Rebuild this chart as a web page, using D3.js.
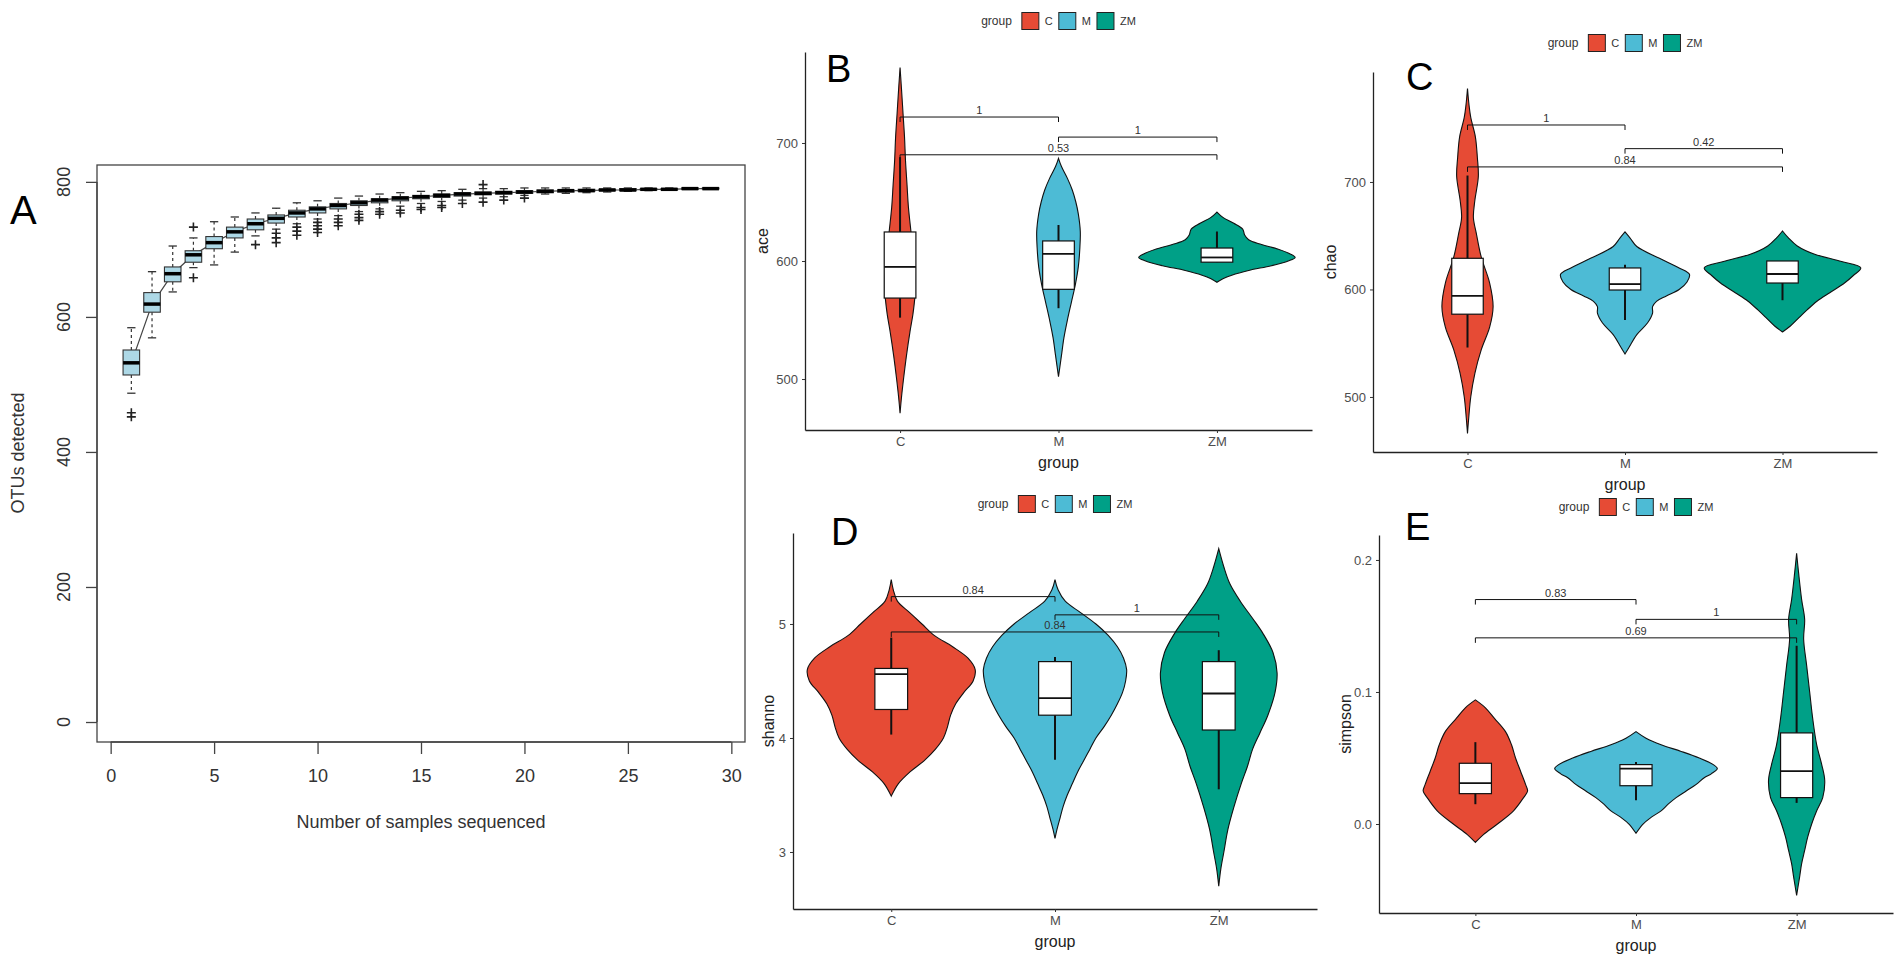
<!DOCTYPE html>
<html>
<head>
<meta charset="utf-8">
<script src="https://cdn.jsdelivr.net/npm/d3@7"></script>
<style>
    body { margin: 0; background: #fff; }
    text { font-family: "Liberation Sans", Arial, sans-serif; }
</style>
</head>
<body>
<div id="wrapper"></div>
<script>
// ---------- panel A: rarefaction boxplots ----------
const rareSamples = d3.range(1, 30)
const rareMedian = [532, 619, 664, 692, 710, 726, 738, 746, 754, 760, 765, 769, 773, 776, 778, 780, 782, 783, 784, 785, 786, 787, 787, 788, 788, 789, 789, 790, 790]
const rareQ1 = [514, 607, 652, 681, 701, 717, 729, 739, 748, 754, 760, 765, 769, 772, 775, 777, 779, 781, 782, 783, 784, 785, 786, 787, 787, 788, 788, 789, 790]
const rareQ3 = [551, 636, 674, 698, 719, 733, 745, 751, 758, 763, 768, 772, 775, 778, 780, 782, 784, 785, 786, 787, 788, 788, 789, 789, 790, 790, 790, 791, 791]
const rareHigh = [584, 667, 705, 717, 741, 748, 754, 761, 769, 772, 776, 779, 782, 784, 786, 787, 789, 790, 790, 791, 791, 791, 791, 791, 791, 791, 791, 791, 791]
const rareLow = [487, 569, 637, 673, 677, 696, 720, 730, 738, 745, 750, 756, 760, 764, 768, 771, 773, 776, 778, 780, 782, 783, 784, 785, 786, 787, 788, 789, 790]
const rareOutliers = [[458, 452], [], [], [733, 658], [], [], [707], [724, 717, 710], [733, 727, 721], [740, 735, 730, 725], [745, 740, 735], [752, 747, 743], [756, 752], [758, 754], [762, 759], [765, 762], [768], [796, 770], [773], [776], [], [], [], [], [], [], [], [], []]
const rareXTicks = [0, 5, 10, 15, 20, 25, 30]
const rareYTicks = [0, 200, 400, 600, 800]

// ---------- violin panels ----------
const groups = ['C', 'M', 'ZM']
const groupColors = ['#E64B35', '#4DBBD5', '#00A087']

// violin outlines: [value, density]
const aceC = [[764, 0], [745, 1.5], [725, 3], [705, 4.5], [685, 5.5], [665, 7], [645, 8.5], [625, 11], [605, 13.5], [585, 15.5], [570, 15], [555, 13], [540, 10], [520, 6.5], [500, 3.5], [485, 1.5], [471, 0]]
const aceM = [[687, 0], [680, 3], [670, 9], [660, 14], [650, 17.5], [640, 20], [625, 22], [610, 21.5], [595, 20], [580, 17], [565, 13], [550, 9], [535, 5.5], [520, 3], [502, 0]]
const aceZM = [[641.5, 0], [637, 6], [632, 17], [627, 26], [622, 28], [618, 32], [614, 45], [610, 62], [606, 74], [603, 79], [600, 72], [596, 55], [592, 32], [588, 15], [585, 6], [582, 0]]
const aceBox = [[552, 568.6, 595, 624.6, 688], [560, 576, 606, 617, 630.5], [599, 599, 603, 611, 625]]
const aceBrackets = [['C', 'M', 722, '1'], ['M', 'ZM', 705, '1'], ['C', 'ZM', 690, '0.53']]

const chaoC = [[787, 0], [772, 1.5], [760, 3.3], [742, 8], [723, 10], [705, 11], [683, 7.5], [667, 6], [652, 9], [630, 14], [606, 22.5], [584, 26], [565, 22.5], [544, 14], [522, 7.5], [500, 3.3], [480, 1.2], [466, 0]]
const chaoM = [[653.5, 0], [648, 5], [640, 12], [629, 35], [620, 55], [614, 65.5], [607, 63], [600, 55], [594, 42], [589, 32], [584, 28], [578, 28], [569, 23], [558, 12], [546, 4], [540, 0]]
const chaoZM = [[654.4, 0], [648, 6], [640.5, 15], [633, 32], [626, 60], [620, 79.5], [613, 72], [606, 63], [597, 48], [589, 35], [581, 25], [574, 17], [566, 8], [560.5, 0]]
const chaoBox = [[546, 577, 594, 629, 706], [571.6, 599.5, 605, 620, 623], [590, 606, 614.4, 626.5, 626.5]]
const chaoBrackets = [['C', 'M', 753, '1'], ['M', 'ZM', 731, '0.42'], ['C', 'ZM', 714, '0.84']]

const shannoC = [[5.39, 0], [5.3, 2], [5.2, 6], [5.1, 18], [5.0, 30], [4.9, 42], [4.8, 60], [4.7, 75], [4.6, 82], [4.5, 80], [4.4, 71], [4.3, 63], [4.2, 58], [4.1, 55], [4.0, 51], [3.9, 43], [3.8, 32], [3.7, 18], [3.6, 7], [3.49, 0]]
const shannoM = [[5.39, 0], [5.3, 3], [5.2, 10], [5.1, 25], [5.0, 40], [4.9, 52], [4.8, 61], [4.7, 67], [4.6, 70], [4.5, 69], [4.4, 66], [4.3, 61], [4.2, 55], [4.1, 48], [4.0, 40], [3.9, 34], [3.8, 28], [3.7, 22], [3.6, 17], [3.5, 12], [3.4, 8], [3.3, 5], [3.2, 2], [3.12, 0]]
const shannoZM = [[5.66, 0], [5.5, 5], [5.35, 11], [5.2, 21], [5.05, 33], [4.92, 43], [4.75, 53], [4.57, 57], [4.4, 55], [4.2, 48], [4.04, 40], [3.9, 33], [3.75, 28], [3.6, 22], [3.4, 15], [3.2, 9], [3.0, 5], [2.85, 2], [2.7, 0]]
const shannoBox = [[4.03, 4.25, 4.56, 4.61, 4.88], [3.81, 4.2, 4.35, 4.67, 4.71], [3.55, 4.07, 4.39, 4.67, 4.77]]
const shannoBrackets = [['C', 'M', 5.24, '0.84'], ['M', 'ZM', 5.08, '1'], ['C', 'ZM', 4.93, '0.84']]

const simpsonC = [[0.094, 0], [0.088, 10], [0.08, 19], [0.07, 30], [0.06, 36], [0.05, 40], [0.04, 45], [0.03, 50], [0.025, 52], [0.02, 48], [0.01, 38], [0.0, 22], [-0.008, 8], [-0.014, 0]]
const simpsonM = [[0.070, 0], [0.065, 10], [0.06, 25], [0.055, 45], [0.05, 63], [0.045, 77], [0.042, 81], [0.038, 75], [0.035, 68], [0.03, 60], [0.025, 50], [0.02, 40], [0.015, 32], [0.01, 25], [0.005, 15], [0.0, 7], [-0.007, 0]]
const simpsonZM = [[0.205, 0], [0.19, 2], [0.17, 5], [0.155, 8], [0.14, 7], [0.12, 10], [0.10, 13], [0.08, 16], [0.06, 20], [0.045, 25], [0.033, 28], [0.02, 26], [0.01, 20], [0.0, 15], [-0.01, 11], [-0.02, 8], [-0.03, 5], [-0.04, 3], [-0.054, 0]]
const simpsonBox = [[0.015, 0.023, 0.031, 0.046, 0.062], [0.018, 0.029, 0.042, 0.045, 0.047], [0.016, 0.020, 0.040, 0.069, 0.135]]
const simpsonBrackets = [['C', 'M', 0.170, '0.83'], ['M', 'ZM', 0.155, '1'], ['C', 'ZM', 0.141, '0.69']]

const wrapper = d3.select('#wrapper')
    .append('svg')
    .attr('width', 1902)
    .attr('height', 962)

// ---------- panel A ----------
function drawRarefaction() {
    const bounds = wrapper.append('g')
    const xScale = d3.scaleLinear().domain([-0.66, 30.66]).range([97, 745])
    const yScale = d3.scaleLinear().domain([-29.6, 825]).range([742, 165])
    const boxW = xScale(0.4) - xScale(0)

    bounds.append('rect')
        .attr('x', 97).attr('y', 165)
        .attr('width', 648).attr('height', 577)
        .attr('fill', 'none').attr('stroke', '#444').attr('stroke-width', 1.3)

    const xAxis = d3.axisBottom(xScale).tickValues(rareXTicks).tickSize(12).tickPadding(15).tickSizeOuter(0)
    const xg = bounds.append('g').attr('transform', 'translate(0,742)').call(xAxis)
    xg.select('.domain').attr('d', `M${xScale(0)},0H${xScale(30)}`).attr('stroke', '#444').attr('stroke-width', 1.3)
    xg.selectAll('.tick line').attr('stroke', '#444').attr('stroke-width', 1.3)
    xg.selectAll('.tick text').attr('font-size', 18).attr('fill', '#333')
        .attr('font-family', '"Liberation Sans", Arial, sans-serif')

    const yAxis = d3.axisLeft(yScale).tickValues(rareYTicks).tickSize(11).tickFormat('').tickSizeOuter(0)
    const yg = bounds.append('g').attr('transform', 'translate(97,0)').call(yAxis)
    yg.select('.domain').attr('d', `M0,${yScale(0)}V${yScale(800)}`).attr('stroke', '#444').attr('stroke-width', 1.3)
    yg.selectAll('.tick line').attr('stroke', '#444').attr('stroke-width', 1.3)
    bounds.selectAll('.ytick-label')
        .data(rareYTicks)
        .join('text')
        .attr('class', 'ytick-label')
        .attr('transform', d => `translate(70,${yScale(d)}) rotate(-90)`)
        .attr('text-anchor', 'middle')
        .attr('font-size', 18)
        .attr('fill', '#333')
        .text(d => d)

    bounds.append('text')
        .attr('x', 421).attr('y', 828)
        .attr('text-anchor', 'middle').attr('font-size', 18).attr('fill', '#333')
        .text('Number of samples sequenced')
    bounds.append('text')
        .attr('transform', 'translate(24,453) rotate(-90)')
        .attr('text-anchor', 'middle').attr('font-size', 18).attr('fill', '#333')
        .text('OTUs detected')
    bounds.append('text')
        .attr('x', 10).attr('y', 224)
        .attr('font-size', 40).attr('fill', '#000')
        .text('A')

    // line through medians
    const medianLine = d3.line()
        .x((d, i) => xScale(rareSamples[i]))
        .y(d => yScale(d))
    bounds.append('path')
        .attr('d', medianLine(rareMedian))
        .attr('fill', 'none').attr('stroke', '#444').attr('stroke-width', 1.2)

    const boxes = bounds.selectAll('.rare-box')
        .data(rareSamples)
        .join('g')
        .attr('class', 'rare-box')

    boxes.append('line')
        .attr('x1', d => xScale(d)).attr('x2', d => xScale(d))
        .attr('y1', (d, i) => yScale(rareQ3[i])).attr('y2', (d, i) => yScale(rareHigh[i]))
        .attr('stroke', '#333').attr('stroke-dasharray', '3,3').attr('stroke-width', 1.2)
    boxes.append('line')
        .attr('x1', d => xScale(d)).attr('x2', d => xScale(d))
        .attr('y1', (d, i) => yScale(rareQ1[i])).attr('y2', (d, i) => yScale(rareLow[i]))
        .attr('stroke', '#333').attr('stroke-dasharray', '3,3').attr('stroke-width', 1.2)
    boxes.append('line')
        .attr('x1', d => xScale(d) - boxW / 2).attr('x2', d => xScale(d) + boxW / 2)
        .attr('y1', (d, i) => yScale(rareHigh[i])).attr('y2', (d, i) => yScale(rareHigh[i]))
        .attr('stroke', '#333').attr('stroke-width', 1.3)
    boxes.append('line')
        .attr('x1', d => xScale(d) - boxW / 2).attr('x2', d => xScale(d) + boxW / 2)
        .attr('y1', (d, i) => yScale(rareLow[i])).attr('y2', (d, i) => yScale(rareLow[i]))
        .attr('stroke', '#333').attr('stroke-width', 1.3)
    boxes.append('rect')
        .attr('x', d => xScale(d) - boxW)
        .attr('y', (d, i) => yScale(rareQ3[i]))
        .attr('width', boxW * 2)
        .attr('height', (d, i) => Math.max(1, yScale(rareQ1[i]) - yScale(rareQ3[i])))
        .attr('fill', '#ADD8E6').attr('stroke', '#333').attr('stroke-width', 1.1)
    boxes.append('line')
        .attr('x1', d => xScale(d) - boxW).attr('x2', d => xScale(d) + boxW)
        .attr('y1', (d, i) => yScale(rareMedian[i])).attr('y2', (d, i) => yScale(rareMedian[i]))
        .attr('stroke', '#000').attr('stroke-width', 3.5)

    // outliers as "+"
    rareSamples.forEach((s, i) => {
        rareOutliers[i].forEach(v => {
            const cx = xScale(s), cy = yScale(v)
            bounds.append('path')
                .attr('d', `M${cx - 4.5},${cy}H${cx + 4.5}M${cx},${cy - 4.5}V${cy + 4.5}`)
                .attr('stroke', '#222').attr('stroke-width', 1.6)
        })
    })
}

// ---------- legend ----------
function drawLegend(cx, cy) {
    const legend = wrapper.append('g')
    const title = legend.append('text')
        .attr('x', 0).attr('y', cy).attr('dy', '0.35em')
        .attr('font-size', 12).attr('fill', '#333')
        .text('group')
    let pos = title.node().getComputedTextLength() + 10
    groups.forEach((grp, i) => {
        legend.append('rect')
            .attr('x', pos).attr('y', cy - 8.5)
            .attr('width', 17).attr('height', 17)
            .attr('fill', groupColors[i]).attr('stroke', '#222').attr('stroke-width', 1)
        pos += 23
        const label = legend.append('text')
            .attr('x', pos).attr('y', cy).attr('dy', '0.35em')
            .attr('font-size', 11).attr('fill', '#333')
            .text(grp)
        pos += label.node().getComputedTextLength() + 6
    })
    legend.attr('transform', `translate(${cx - (pos - 6) / 2},0)`)
}

// ---------- violin panel ----------
function drawViolinPanel(p) {
    const xScale = d3.scalePoint().domain(groups).range([p.left, p.right]).padding(0.6)
    const yScale = d3.scaleLinear().domain(p.yDomain).range([p.bottom, p.top])
    const colorScale = d3.scaleOrdinal().domain(groups).range(groupColors)
    const widthScale = d3.scaleLinear().domain([0, 160]).range([0, xScale.step()])
    const boxHalf = xScale.step() * 0.1
    const bounds = wrapper.append('g')

    groups.forEach((grp, i) => {
        const violinArea = d3.area()
            .y(d => yScale(d[0]))
            .x0(d => xScale(grp) - widthScale(d[1]))
            .x1(d => xScale(grp) + widthScale(d[1]))
            .curve(d3.curveCatmullRom)
        bounds.append('path')
            .attr('d', violinArea(p.violins[i]))
            .attr('fill', colorScale(grp))
            .attr('stroke', '#111').attr('stroke-width', 1.1)
    })

    p.box.forEach(([lo, q1, med, q3, hi], i) => {
        const cx = xScale(groups[i])
        bounds.append('line')
            .attr('x1', cx).attr('x2', cx)
            .attr('y1', yScale(lo)).attr('y2', yScale(hi))
            .attr('stroke', '#111').attr('stroke-width', 2)
        bounds.append('rect')
            .attr('x', cx - boxHalf).attr('y', yScale(q3))
            .attr('width', boxHalf * 2).attr('height', yScale(q1) - yScale(q3))
            .attr('fill', '#fff').attr('stroke', '#111').attr('stroke-width', 1.2)
        bounds.append('line')
            .attr('x1', cx - boxHalf).attr('x2', cx + boxHalf)
            .attr('y1', yScale(med)).attr('y2', yScale(med))
            .attr('stroke', '#111').attr('stroke-width', 1.8)
    })

    p.brackets.forEach(([a, b, v, label]) => {
        const yy = yScale(v)
        bounds.append('path')
            .attr('d', `M${xScale(a)},${yy + 5}V${yy}H${xScale(b)}V${yy + 5}`)
            .attr('fill', 'none').attr('stroke', '#111').attr('stroke-width', 1)
        bounds.append('text')
            .attr('x', (xScale(a) + xScale(b)) / 2).attr('y', yy - 3)
            .attr('text-anchor', 'middle').attr('font-size', 11).attr('fill', '#333')
            .text(label)
    })

    const xAxis = d3.axisBottom(xScale).tickSize(3).tickPadding(4).tickSizeOuter(0)
    const xg = bounds.append('g').attr('transform', `translate(0,${p.bottom})`).call(xAxis)
    const yAxis = d3.axisLeft(yScale).tickValues(p.ticks).tickFormat(p.format).tickSize(3).tickPadding(4).tickSizeOuter(0)
    const yg = bounds.append('g').attr('transform', `translate(${p.left},0)`).call(yAxis)
    ;[xg, yg].forEach(ag => {
        ag.select('.domain').attr('stroke', '#222').attr('stroke-width', 1.3)
        ag.selectAll('.tick line').attr('stroke', '#333')
        ag.selectAll('.tick text').attr('font-size', 13).attr('fill', '#4D4D4D')
            .attr('font-family', '"Liberation Sans", Arial, sans-serif')
    })

    bounds.append('text')
        .attr('x', xScale('M')).attr('y', p.bottom + 38)
        .attr('text-anchor', 'middle').attr('font-size', 16).attr('fill', '#222')
        .text('group')
    bounds.append('text')
        .attr('transform', `translate(${p.yTitleX},${(p.top + p.bottom) / 2}) rotate(-90)`)
        .attr('text-anchor', 'middle').attr('dy', '0.35em').attr('font-size', 16).attr('fill', '#222')
        .text(p.yTitle)
    bounds.append('text')
        .attr('x', p.letterX).attr('y', p.letterY)
        .attr('font-size', 38).attr('fill', '#000')
        .text(p.letter)

    drawLegend(xScale('M'), p.legendY)
}

drawRarefaction()

drawViolinPanel({
    left: 805, right: 1312, top: 52, bottom: 430,
    yDomain: [456.8, 777.1], ticks: [500, 600, 700], format: d3.format('d'),
    violins: [aceC, aceM, aceZM], box: aceBox, brackets: aceBrackets,
    yTitle: 'ace', yTitleX: 762, letter: 'B', letterX: 826, letterY: 82, legendY: 21
})
drawViolinPanel({
    left: 1373, right: 1877, top: 72, bottom: 452,
    yDomain: [448.8, 802.3], ticks: [500, 600, 700], format: d3.format('d'),
    violins: [chaoC, chaoM, chaoZM], box: chaoBox, brackets: chaoBrackets,
    yTitle: 'chao', yTitleX: 1330, letter: 'C', letterX: 1406, letterY: 90, legendY: 43
})
drawViolinPanel({
    left: 793, right: 1317, top: 533, bottom: 909,
    yDomain: [2.5, 5.798], ticks: [3, 4, 5], format: d3.format('d'),
    violins: [shannoC, shannoM, shannoZM], box: shannoBox, brackets: shannoBrackets,
    yTitle: 'shanno', yTitleX: 768, letter: 'D', letterX: 831, letterY: 545, legendY: 504
})
drawViolinPanel({
    left: 1379, right: 1893, top: 535, bottom: 913,
    yDomain: [-0.0674, 0.2189], ticks: [0, 0.1, 0.2], format: d3.format('.1f'),
    violins: [simpsonC, simpsonM, simpsonZM], box: simpsonBox, brackets: simpsonBrackets,
    yTitle: 'simpson', yTitleX: 1345, letter: 'E', letterX: 1405, letterY: 540, legendY: 507
})
</script>
</body>
</html>
